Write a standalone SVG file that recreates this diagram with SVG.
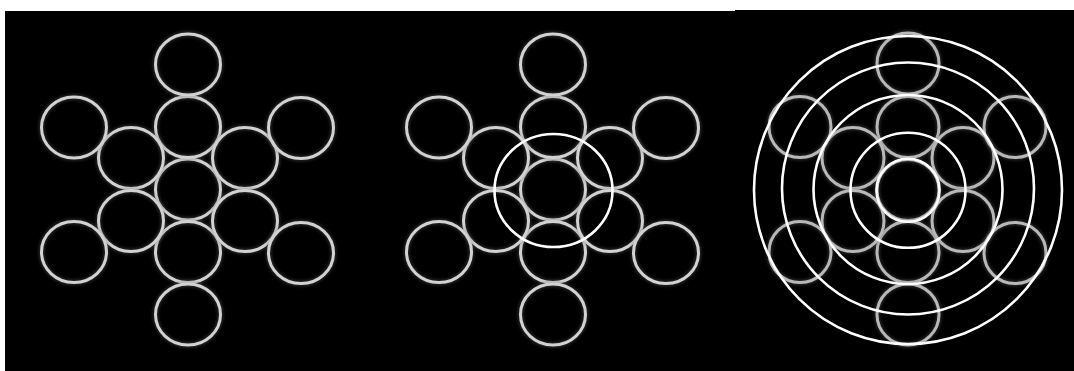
<svg xmlns="http://www.w3.org/2000/svg" width="1074" height="371" viewBox="0 0 1074 371">
  <defs>
    <style>
      .g1 { fill: none; stroke: #d2d2d2; stroke-width: 3; }
      .g3 { fill: none; stroke: #b8b8b8; stroke-width: 3; }
      .glow { fill: none; stroke: #6a6a6a; stroke-width: 6; opacity: 0.35; filter: url(#blur); }
      .w { fill: none; stroke: #ffffff; stroke-width: 2.6; }
    </style>
    <filter id="blur" x="-20%" y="-20%" width="140%" height="140%">
      <feGaussianBlur stdDeviation="1.5"/>
    </filter>
  </defs>
  <rect x="0" y="0" width="1074" height="371" fill="#ffffff"/>
  <rect x="5" y="11" width="731" height="360" fill="#000000"/>
  <rect x="735" y="10" width="339" height="361" fill="#000000"/>

  <!-- Panel 1 -->
  <g id="panel1">
    <g id="p1-c"><ellipse class="glow" cx="188" cy="189.5" rx="32.5" ry="30.5"/><ellipse class="g1" cx="188" cy="189.5" rx="32.5" ry="30.5"/></g>
    <g id="p1-n1"><ellipse class="glow" cx="188" cy="127" rx="32.5" ry="30.5"/><ellipse class="g1" cx="188" cy="127" rx="32.5" ry="30.5"/></g>
    <g id="p1-n2"><ellipse class="glow" cx="188" cy="64.5" rx="32.5" ry="30.5"/><ellipse class="g1" cx="188" cy="64.5" rx="32.5" ry="30.5"/></g>
    <g id="p1-s1"><ellipse class="glow" cx="188" cy="252" rx="32.5" ry="30.5"/><ellipse class="g1" cx="188" cy="252" rx="32.5" ry="30.5"/></g>
    <g id="p1-s2"><ellipse class="glow" cx="188" cy="314.5" rx="32.5" ry="30.5"/><ellipse class="g1" cx="188" cy="314.5" rx="32.5" ry="30.5"/></g>
    <g id="p1-ul"><ellipse class="glow" cx="131" cy="158" rx="32.5" ry="30.5"/><ellipse class="g1" cx="131" cy="158" rx="32.5" ry="30.5"/></g>
    <g id="p1-ur"><ellipse class="glow" cx="245" cy="158" rx="32.5" ry="30.5"/><ellipse class="g1" cx="245" cy="158" rx="32.5" ry="30.5"/></g>
    <g id="p1-ll"><ellipse class="glow" cx="131" cy="221" rx="32.5" ry="30.5"/><ellipse class="g1" cx="131" cy="221" rx="32.5" ry="30.5"/></g>
    <g id="p1-lr"><ellipse class="glow" cx="245" cy="221" rx="32.5" ry="30.5"/><ellipse class="g1" cx="245" cy="221" rx="32.5" ry="30.5"/></g>
    <g id="p1-UL"><ellipse class="glow" cx="74" cy="127.5" rx="32.5" ry="30.5"/><ellipse class="g1" cx="74" cy="127.5" rx="32.5" ry="30.5"/></g>
    <g id="p1-UR"><ellipse class="glow" cx="301" cy="128" rx="32.5" ry="30.5"/><ellipse class="g1" cx="301" cy="128" rx="32.5" ry="30.5"/></g>
    <g id="p1-LL"><ellipse class="glow" cx="74" cy="252" rx="32.5" ry="30.5"/><ellipse class="g1" cx="74" cy="252" rx="32.5" ry="30.5"/></g>
    <g id="p1-LR"><ellipse class="glow" cx="301" cy="253" rx="32.5" ry="30.5"/><ellipse class="g1" cx="301" cy="253" rx="32.5" ry="30.5"/></g>
  </g>

  <!-- Panel 2 -->
  <g id="panel2" transform="translate(365,0)">
    <g id="p2-c"><ellipse class="glow" cx="188" cy="189.5" rx="32.5" ry="30.5"/><ellipse class="g1" cx="188" cy="189.5" rx="32.5" ry="30.5"/></g>
    <g id="p2-n1"><ellipse class="glow" cx="188" cy="127" rx="32.5" ry="30.5"/><ellipse class="g1" cx="188" cy="127" rx="32.5" ry="30.5"/></g>
    <g id="p2-n2"><ellipse class="glow" cx="188" cy="64.5" rx="32.5" ry="30.5"/><ellipse class="g1" cx="188" cy="64.5" rx="32.5" ry="30.5"/></g>
    <g id="p2-s1"><ellipse class="glow" cx="188" cy="252" rx="32.5" ry="30.5"/><ellipse class="g1" cx="188" cy="252" rx="32.5" ry="30.5"/></g>
    <g id="p2-s2"><ellipse class="glow" cx="188" cy="314.5" rx="32.5" ry="30.5"/><ellipse class="g1" cx="188" cy="314.5" rx="32.5" ry="30.5"/></g>
    <g id="p2-ul"><ellipse class="glow" cx="131" cy="158" rx="32.5" ry="30.5"/><ellipse class="g1" cx="131" cy="158" rx="32.5" ry="30.5"/></g>
    <g id="p2-ur"><ellipse class="glow" cx="245" cy="158" rx="32.5" ry="30.5"/><ellipse class="g1" cx="245" cy="158" rx="32.5" ry="30.5"/></g>
    <g id="p2-ll"><ellipse class="glow" cx="131" cy="221" rx="32.5" ry="30.5"/><ellipse class="g1" cx="131" cy="221" rx="32.5" ry="30.5"/></g>
    <g id="p2-lr"><ellipse class="glow" cx="245" cy="221" rx="32.5" ry="30.5"/><ellipse class="g1" cx="245" cy="221" rx="32.5" ry="30.5"/></g>
    <g id="p2-UL"><ellipse class="glow" cx="74" cy="127.5" rx="32.5" ry="30.5"/><ellipse class="g1" cx="74" cy="127.5" rx="32.5" ry="30.5"/></g>
    <g id="p2-UR"><ellipse class="glow" cx="301" cy="128" rx="32.5" ry="30.5"/><ellipse class="g1" cx="301" cy="128" rx="32.5" ry="30.5"/></g>
    <g id="p2-LL"><ellipse class="glow" cx="74" cy="252" rx="32.5" ry="30.5"/><ellipse class="g1" cx="74" cy="252" rx="32.5" ry="30.5"/></g>
    <g id="p2-LR"><ellipse class="glow" cx="301" cy="253" rx="32.5" ry="30.5"/><ellipse class="g1" cx="301" cy="253" rx="32.5" ry="30.5"/></g>
    <g id="p2-ring"><ellipse class="w" cx="188.5" cy="190.5" rx="59" ry="56.5"/></g>
  </g>

  <!-- Panel 3 -->
  <g id="panel3">
    <g id="p3-c"><ellipse class="glow" cx="908" cy="190" rx="31" ry="30.5"/><ellipse class="g3" cx="908" cy="190" rx="31" ry="30.5"/></g>
    <g id="p3-n1"><ellipse class="glow" cx="908" cy="127" rx="31" ry="30.5"/><ellipse class="g3" cx="908" cy="127" rx="31" ry="30.5"/></g>
    <g id="p3-n2"><ellipse class="glow" cx="908" cy="63.5" rx="31" ry="30.5"/><ellipse class="g3" cx="908" cy="63.5" rx="31" ry="30.5"/></g>
    <g id="p3-s1"><ellipse class="glow" cx="908" cy="252" rx="31" ry="30.5"/><ellipse class="g3" cx="908" cy="252" rx="31" ry="30.5"/></g>
    <g id="p3-s2"><ellipse class="glow" cx="908" cy="314.5" rx="31" ry="30.5"/><ellipse class="g3" cx="908" cy="314.5" rx="31" ry="30.5"/></g>
    <g id="p3-ul"><ellipse class="glow" cx="853" cy="158" rx="31" ry="30.5"/><ellipse class="g3" cx="853" cy="158" rx="31" ry="30.5"/></g>
    <g id="p3-ur"><ellipse class="glow" cx="963" cy="158" rx="31" ry="30.5"/><ellipse class="g3" cx="963" cy="158" rx="31" ry="30.5"/></g>
    <g id="p3-ll"><ellipse class="glow" cx="853" cy="221" rx="31" ry="30.5"/><ellipse class="g3" cx="853" cy="221" rx="31" ry="30.5"/></g>
    <g id="p3-lr"><ellipse class="glow" cx="963" cy="221" rx="31" ry="30.5"/><ellipse class="g3" cx="963" cy="221" rx="31" ry="30.5"/></g>
    <g id="p3-UL"><ellipse class="glow" cx="800" cy="127" rx="31" ry="30.5"/><ellipse class="g3" cx="800" cy="127" rx="31" ry="30.5"/></g>
    <g id="p3-UR"><ellipse class="glow" cx="1015" cy="127" rx="31" ry="30.5"/><ellipse class="g3" cx="1015" cy="127" rx="31" ry="30.5"/></g>
    <g id="p3-LL"><ellipse class="glow" cx="800" cy="252" rx="31" ry="30.5"/><ellipse class="g3" cx="800" cy="252" rx="31" ry="30.5"/></g>
    <g id="p3-LR"><ellipse class="glow" cx="1015" cy="253" rx="31" ry="30.5"/><ellipse class="g3" cx="1015" cy="253" rx="31" ry="30.5"/></g>
    <g id="p3-rings">
      <circle class="w" cx="908" cy="190.3" r="31.5"/>
      <circle class="w" cx="908" cy="190.3" r="57.5"/>
      <circle class="w" cx="908" cy="189.5" r="94.5"/>
      <circle class="w" cx="908" cy="188.5" r="126"/>
      <circle class="w" cx="908" cy="190" r="154"/>
    </g>
  </g>
</svg>
